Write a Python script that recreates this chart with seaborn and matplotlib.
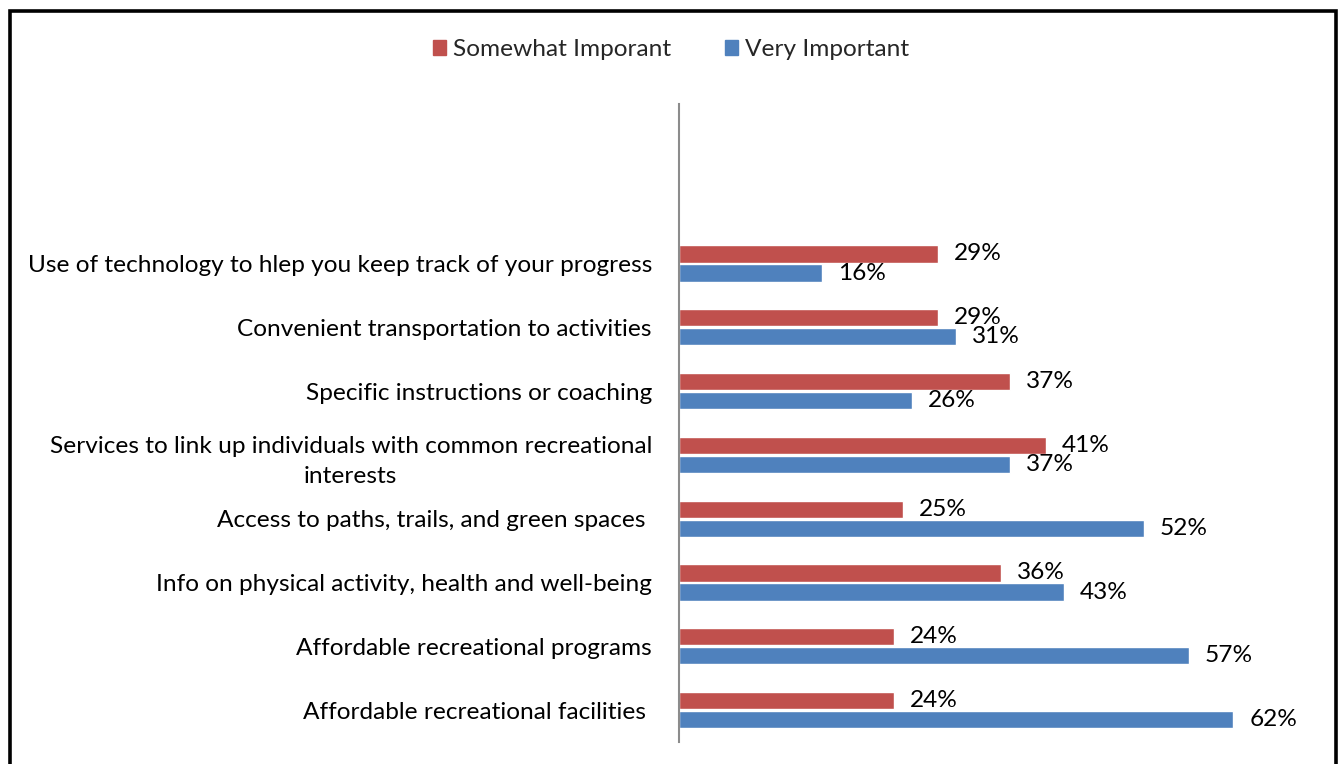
import matplotlib
matplotlib.use("Agg")
import matplotlib.pyplot as plt
import seaborn as sns
import pandas as pd
from matplotlib.patches import Rectangle

categories = [
    "Use of technology to hlep you keep track of your progress",
    "Convenient transportation to activities",
    "Specific instructions or coaching",
    "Services to link up individuals with common recreational\ninterests",
    "Access to paths, trails, and green spaces ",
    "Info on physical activity, health and well-being",
    "Affordable recreational programs",
    "Affordable recreational facilities ",
]
somewhat_important = [29, 29, 37, 41, 25, 36, 24, 24]
very_important = [16, 31, 26, 37, 52, 43, 57, 62]
series_names = ["Somewhat Imporant", "Very Important"]
series_colors = ["#C0504D", "#4F81BD"]

df = pd.DataFrame({
    "category": categories * 2,
    "series": [series_names[0]] * len(categories) + [series_names[1]] * len(categories),
    "value": somewhat_important + very_important,
})

sns.set_style("white")
plt.rcParams["font.family"] = ["Lato", "DejaVu Sans"]
FS = 17.6

fig = plt.figure(figsize=(13.42, 7.64), dpi=100)
ax = fig.add_axes([679 / 1342, 22 / 764, (1305 - 679) / 1342, (742 - 104) / 764])

sns.barplot(
    data=df, x="value", y="category", hue="series",
    order=categories, hue_order=series_names, palette=series_colors,
    orient="h", width=0.6, gap=0.1, saturation=1, ax=ax, legend=False,
)

ax.set_xlim(0, 70)
ax.set_ylim(7.5, -2.5)
ax.set_xlabel("")
ax.set_ylabel("")
ax.set_xticks([])
ax.tick_params(axis="y", length=0, pad=19.5, labelsize=FS, labelcolor="black")
for lbl in ax.get_yticklabels():
    lbl.set_multialignment("center")
    lbl.set_linespacing(1.55)
for side in ["top", "right", "bottom"]:
    ax.spines[side].set_visible(False)
ax.spines["left"].set_color("#8c8c8c")
ax.spines["left"].set_linewidth(1.5)

for container in ax.containers:
    ax.bar_label(container, labels=[f"{v:.0f}%" for v in container.datavalues],
                 padding=11.5, fontsize=FS, color="black")

handles = [Rectangle((0, 0), 1, 1, color=c) for c in series_colors]
fig.legend(handles, series_names, loc="center", bbox_to_anchor=(0.5, 1 - 50 / 764),
           ncol=2, frameon=False, fontsize=FS, handlelength=0.55, handleheight=0.55,
           handletextpad=0.28, columnspacing=2.2)

# outer frame around the chart
fig.patches.append(Rectangle((9.5 / 1342, -0.05), (1335.5 - 9.5) / 1342, 1.05 - 11 / 764,
                             transform=fig.transFigure, fill=False,
                             edgecolor="black", linewidth=2.6))

fig.savefig("out.png", dpi=100)
